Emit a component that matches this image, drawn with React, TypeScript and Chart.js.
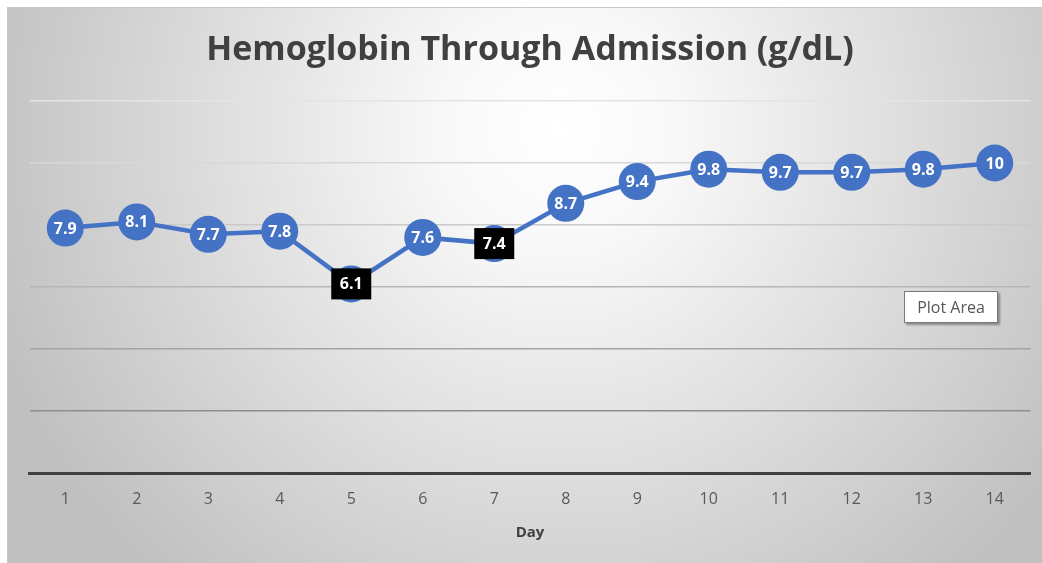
import React, { useEffect, useRef } from "react";
import { Chart, registerables } from "chart.js";

Chart.register(...registerables);

const days = ["1", "2", "3", "4", "5", "6", "7", "8", "9", "10", "11", "12", "13", "14"];
const hemoglobin = [7.9, 8.1, 7.7, 7.8, 6.1, 7.6, 7.4, 8.7, 9.4, 9.8, 9.7, 9.7, 9.8, 10];
const labelTexts = ["7.9", "8.1", "7.7", "7.8", "6.1", "7.6", "7.4", "8.7", "9.4", "9.8", "9.7", "9.7", "9.8", "10"];
const boxedDays = ["5", "7"];
const yTicks = [0, 2, 4, 6, 8, 10, 12];
const gridColors = ["#404040", "#8e8e8e", "#a4a4a4", "#b6b6b6", "#cacaca", "#d8d8d8", "#e4e4e4"];

const FONT = "'Open Sans', 'Noto Sans', sans-serif";

const backgroundPlugin = {
  id: "bgPanel",
  beforeDraw(chart: any) {
    const ctx = chart.ctx;
    const w = chart.width;
    const h = chart.height;
    ctx.save();
    ctx.fillStyle = "#ffffff";
    ctx.fillRect(0, 0, w, h);
    const g = ctx.createRadialGradient(560, 130, 0, 560, 130, 600);
    g.addColorStop(0, "#ffffff");
    g.addColorStop(0.2, "#f8f8f8");
    g.addColorStop(1, "#c0c0c0");
    ctx.fillStyle = g;
    ctx.fillRect(7, 7, w - 7, h - 7);
    ctx.strokeStyle = "#c8c8c8";
    ctx.lineWidth = 1;
    ctx.beginPath();
    ctx.moveTo(7.5, h);
    ctx.lineTo(7.5, 7.5);
    ctx.lineTo(w, 7.5);
    ctx.stroke();
    ctx.restore();
  },
};

const labelPlugin = {
  id: "pointLabels",
  afterDatasetsDraw(chart: any) {
    const ctx = chart.ctx;
    const meta = chart.getDatasetMeta(0);
    ctx.save();
    ctx.font = `bold 16px ${FONT}`;
    ctx.textAlign = "center";
    ctx.textBaseline = "middle";
    meta.data.forEach((pt: any, i: number) => {
      const x = pt.x;
      const y = pt.y;
      if (boxedDays.includes(days[i])) {
        ctx.fillStyle = "#000000";
        ctx.fillRect(x - 20, y - 15.5, 40, 31);
      }
      ctx.fillStyle = "#ffffff";
      ctx.fillText(labelTexts[i], x, y + 1);
    });
    ctx.restore();
  },
};

export default function App() {
  const ref = useRef<HTMLCanvasElement | null>(null);

  useEffect(() => {
    if (!ref.current) return;
    const chart = new Chart(ref.current, {
      type: "line",
      data: {
        labels: days,
        datasets: [
          {
            data: hemoglobin,
            borderColor: "#4472C4",
            backgroundColor: "#4472C4",
            borderWidth: 4.5,
            pointRadius: 18.5,
            pointHoverRadius: 18.5,
            pointBackgroundColor: "#4472C4",
            pointBorderWidth: 0,
            tension: 0,
            clip: false as any,
          },
        ],
      },
      options: {
        responsive: false,
        animation: false,
        layout: { autoPadding: false, padding: { left: 29.5, right: 11.5, top: 0, bottom: 0 } },
        plugins: {
          legend: { display: false },
          tooltip: { enabled: false },
          title: {
            display: true,
            text: "Hemoglobin Through Admission (g/dL)",
            color: "#404040",
            font: { family: FONT, size: 34, weight: "bold", lineHeight: 1.2 },
            padding: { top: 30, bottom: 30.2 },
          },
        },
        scales: {
          x: {
            type: "category",
            offset: true,
            grid: { display: false, drawTicks: false },
            border: { display: true, color: "#404040", width: 3 },
            ticks: {
              color: "#595959",
              font: { family: FONT, size: 16, lineHeight: 1.2 },
              padding: 17,
              maxRotation: 0,
              autoSkip: false,
            },
            title: {
              display: true,
              text: "Day",
              color: "#404040",
              font: { family: FONT, size: 15, weight: "bold", lineHeight: 1.2 },
              padding: { top: 0, bottom: 21 },
            },
            afterFit(s: any) {
              s.height = 90;
            },
          },
          y: {
            min: 0,
            max: 12,
            afterBuildTicks(s: any) {
              s.ticks = yTicks.map((v) => ({ value: v }));
            },
            grid: {
              drawTicks: false,
              color: (c: any) => gridColors[yTicks.indexOf(c.tick.value)] || "#cccccc",
              lineWidth: (c: any) => (c.tick.value === 0 ? 0 : 1.5),
            },
            border: { display: false },
            ticks: { display: false },
            afterFit(s: any) {
              s.width = 0;
            },
          },
        },
      },
      plugins: [backgroundPlugin, labelPlugin],
    });
    return () => chart.destroy();
  }, []);

  return (
    <div style={{ position: "absolute", left: 0, top: 0, width: 1042, height: 563 }}>
      <canvas ref={ref} width={1042} height={563} style={{ display: "block" }} />
      <div
        style={{
          position: "absolute",
          left: 904,
          top: 291,
          width: 92,
          height: 30,
          background: "#ffffff",
          border: "1px solid #7a7a7a",
          boxShadow: "2px 2px 2px rgba(0,0,0,0.35)",
          fontFamily: FONT,
          fontSize: 16,
          color: "#575757",
          lineHeight: "30px",
          textAlign: "center",
          whiteSpace: "nowrap",
        }}
      >
        Plot Area
      </div>
    </div>
  );
}
